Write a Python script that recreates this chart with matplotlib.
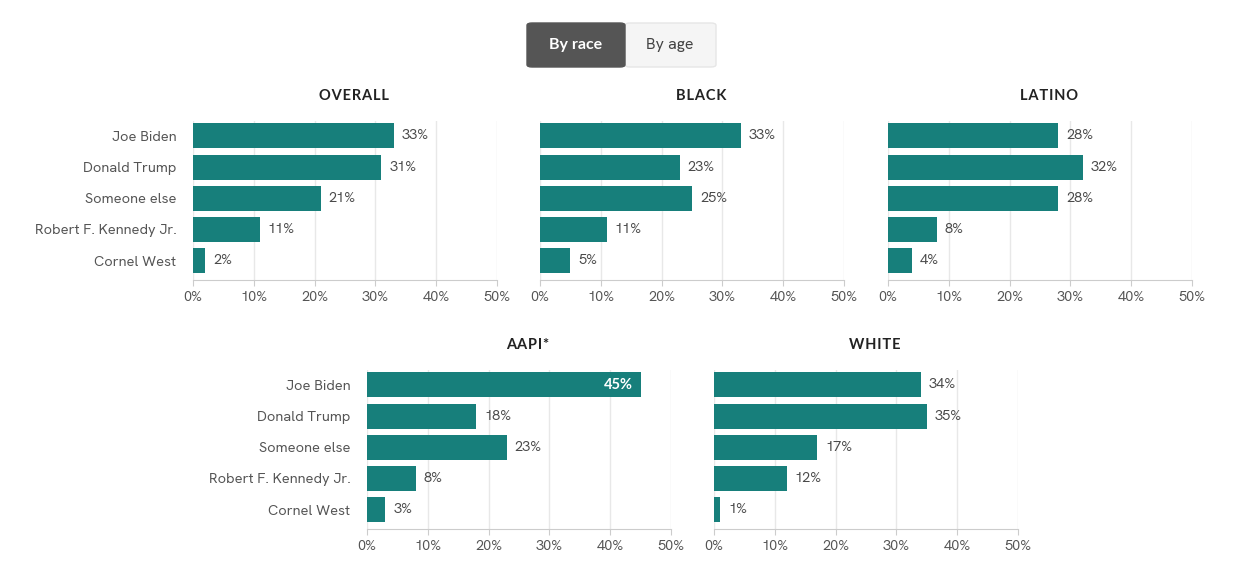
import matplotlib.pyplot as plt
from matplotlib.patches import FancyBboxPatch

# data
kandidat = ["Joe Biden", "Donald Trump", "Someone else", "Robert F. Kennedy Jr.", "Cornel West"]
overall = [33, 31, 21, 11, 2]
black = [33, 23, 25, 11, 5]
latino = [28, 32, 28, 8, 4]
aapi = [45, 18, 23, 8, 3]
white = [34, 35, 17, 12, 1]
x_ticks = [0, 10, 20, 30, 40, 50]

TEAL = "#177f7b"
TEKS = "#555555"
W, H = 1258, 580
TEBAL = ["Lato", "DejaVu Sans"]

plt.rcParams["font.family"] = ["Hanken Grotesk", "Lato", "DejaVu Sans"]

fig = plt.figure(figsize=(W / 100, H / 100), dpi=100)


def panel(left_px, top_px, title, values, show_labels):
    bottom_px = top_px + 159
    ax = fig.add_axes([left_px / W, 1 - bottom_px / H, 304 / W, 159 / H])
    y = list(range(len(values)))
    ax.barh(y, values, height=0.8, color=TEAL, zorder=3)
    for yi, v in zip(y, values):
        if v >= 40:
            ax.text(v - 1.3, yi, f"{v}%", color="white", fontsize=10.5,
                    fontweight="bold", family=TEBAL, ha="right", va="center", zorder=4)
        else:
            ax.text(v + 1.3, yi, f"{v}%", color="#4a4a4a", fontsize=10.5,
                    ha="left", va="center", zorder=4)
    ax.set_xlim(0, 50)
    ax.set_ylim(4.62, -0.48)
    ax.set_xticks(x_ticks)
    ax.set_xticklabels([f"{t}%" for t in x_ticks], color=TEKS, fontsize=10.5)
    ax.tick_params(axis="x", length=4, color="#cccccc", pad=4)
    ax.grid(axis="x", color="#e8e8e8", linewidth=1, zorder=0)
    if show_labels:
        ax.set_yticks(y)
        ax.set_yticklabels(kandidat, color=TEKS, fontsize=10.5)
        ax.tick_params(axis="y", length=0, pad=12)
    else:
        ax.set_yticks([])
    for s in ["top", "right", "left"]:
        ax.spines[s].set_visible(False)
    ax.spines["bottom"].set_color("#cccccc")
    spasi = "\u200a".join(title)
    ax.set_title(spasi, x=0.53, y=1.0, pad=15, fontsize=10.5, fontweight="bold",
                 family=TEBAL, color="#222222")
    return ax


panel(193, 121, "OVERALL", overall, True)
panel(540, 121, "BLACK", black, False)
panel(888, 121, "LATINO", latino, False)
panel(367, 370, "AAPI*", aapi, True)
panel(714, 370, "WHITE", white, False)

# tombol di atas
b1 = FancyBboxPatch((527 / W, 1 - 67 / H), 98 / W, 44 / H,
                    boxstyle="round,pad=0,rounding_size=0.004",
                    transform=fig.transFigure, facecolor="#555555",
                    edgecolor="#555555", zorder=5)
b2 = FancyBboxPatch((625 / W, 1 - 67 / H), 91 / W, 44 / H,
                    boxstyle="round,pad=0,rounding_size=0.004",
                    transform=fig.transFigure, facecolor="#f5f5f5",
                    edgecolor="#e6e6e6", zorder=4)
fig.patches.extend([b2, b1])
fig.text(576 / W, 1 - 45 / H, "By race", color="white", fontsize=11.5,
         fontweight="bold", family=TEBAL, ha="center", va="center", zorder=6)
fig.text(670 / W, 1 - 45 / H, "By age", color="#444444", fontsize=11.5,
         ha="center", va="center", zorder=6)

fig.savefig("out.png", dpi=100, facecolor="white")
